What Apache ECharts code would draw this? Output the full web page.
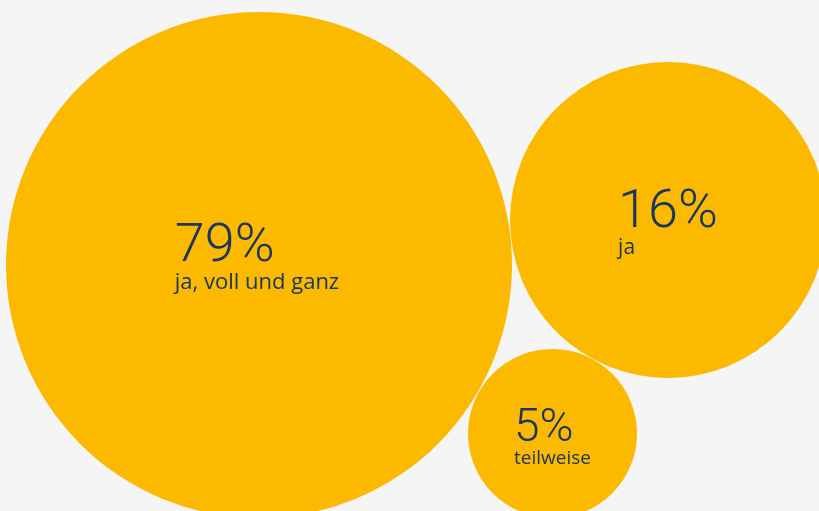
<!DOCTYPE html>
<html>
<head>
<meta charset="utf-8">
<script src="https://cdn.jsdelivr.net/npm/echarts@6/dist/echarts.min.js"></script>
<style>
  html, body { margin: 0; padding: 0; background: #f5f5f5; }
  #chart { width: 819px; height: 511px; }
</style>
</head>
<body>
<div id="chart"></div>
<script>
  // answers and shares in percent
  var answers = ['ja, voll und ganz', 'ja', 'teilweise'];
  var shares = [79, 16, 5];

  // bubble layout (centre in px, diameter in px)
  var centres = [[259, 265], [668, 220], [552.5, 433.5]];
  var diameters = [506, 316, 169];
  var pctSizes = [54, 54, 46];
  var txtSizes = [22, 21, 19];
  var txtLines = [26.4, 25, 21];
  var offsets = [[-2, -4], [0, 6], [0, 6]];

  var myChart = echarts.init(document.getElementById('chart'));
  myChart.setOption({
    backgroundColor: '#f5f5f5',
    animation: false,
    grid: { left: 0, right: 0, top: 0, bottom: 0 },
    xAxis: { type: 'value', min: 0, max: 819, show: false },
    yAxis: { type: 'value', min: 0, max: 511, inverse: true, show: false },
    series: [{
      type: 'scatter',
      data: shares.map(function (v, i) {
        return {
          value: [centres[i][0], centres[i][1], v],
          name: answers[i],
          symbolSize: diameters[i],
          label: {
            offset: offsets[i],
            rich: {
              p: { fontSize: pctSizes[i], lineHeight: pctSizes[i] * 0.82, fontFamily: 'Roboto', fontWeight: 300, color: '#1c3660', align: 'left' },
              t: { fontSize: txtSizes[i], lineHeight: txtLines[i], fontFamily: 'Open Sans', color: '#1c3660', align: 'left' }
            }
          }
        };
      }),
      itemStyle: { color: '#fbba00', opacity: 1 },
      label: {
        show: true,
        position: 'inside',
        formatter: function (p) {
          return '{p|' + p.value[2] + '%}\n{t|' + p.name + '}';
        }
      },
      emphasis: { disabled: true }
    }]
  });
</script>
</body>
</html>
